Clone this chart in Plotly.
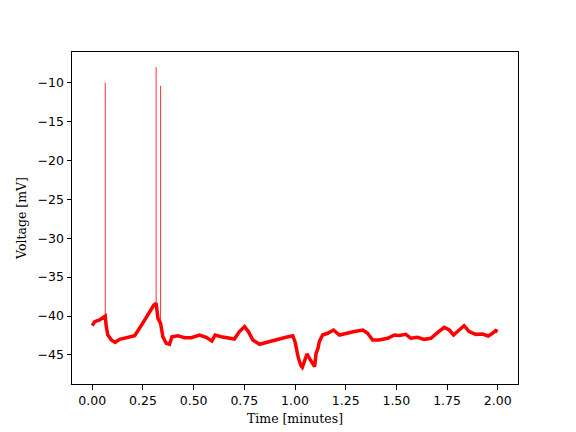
import plotly.graph_objects as go

# Baseline membrane potential trace (time in minutes, voltage in mV)
time_min = [0.000, 0.012, 0.036, 0.061, 0.064, 0.069, 0.077, 0.094, 0.113, 0.135,
            0.160, 0.184, 0.209, 0.233, 0.258, 0.283, 0.304, 0.315, 0.324, 0.337,
            0.348, 0.365, 0.381, 0.393, 0.422, 0.455, 0.488, 0.529, 0.562, 0.590,
            0.606, 0.636, 0.668, 0.701, 0.726, 0.751, 0.770, 0.792, 0.825, 0.857,
            0.890, 0.923, 0.956, 0.989, 1.000, 1.017, 1.030, 1.036, 1.046, 1.059,
            1.075, 1.097, 1.104, 1.113, 1.120, 1.136, 1.161, 1.190, 1.219, 1.251,
            1.293, 1.335, 1.358, 1.383, 1.416, 1.457, 1.490, 1.514, 1.547, 1.571,
            1.604, 1.637, 1.670, 1.703, 1.736, 1.761, 1.782, 1.810, 1.834, 1.859,
            1.892, 1.925, 1.953, 1.974, 1.990, 2.000]
voltage_mv = [-41.24, -40.73, -40.5, -40.09, -40.0, -41.37, -42.44, -43.08, -43.38, -43.0,
              -42.86, -42.73, -42.53, -41.58, -40.5, -39.36, -38.59, -38.37, -40.3, -40.94,
              -42.66, -43.5, -43.63, -42.66, -42.53, -42.79, -42.79, -42.44, -42.73, -43.2,
              -42.44, -42.66, -42.79, -42.96, -42.0, -41.37, -42.0, -43.08, -43.63, -43.38,
              -43.2, -42.96, -42.73, -42.53, -43.3, -45.43, -46.42, -46.6, -45.86, -44.88,
              -45.6, -46.5, -44.8, -44.2, -43.3, -42.44, -42.22, -41.8, -42.44, -42.22,
              -42.0, -41.8, -42.22, -43.08, -43.08, -42.86, -42.44, -42.5, -42.36, -42.86,
              -42.73, -43.0, -42.86, -42.14, -41.45, -41.8, -42.44, -41.8, -41.24, -42.0,
              -42.36, -42.31, -42.57, -42.22, -41.87, -42.0]

# Action potential spikes
spike_time = [0.064, 0.315, 0.337]
spike_base = [-40.0, -38.4, -40.9]
spike_peak = [-10.0, -8.0, -10.4]

y_tickvals = [-45, -40, -35, -30, -25, -20, -15, -10]
y_ticktext = ["\u221245", "\u221240", "\u221235", "\u221230", "\u221225", "\u221220", "\u221215", "\u221210"]
x_tickvals = [0.0, 0.25, 0.5, 0.75, 1.0, 1.25, 1.5, 1.75, 2.0]

sx, sy = [], []
for t, b, p in zip(spike_time, spike_base, spike_peak):
    sx += [t, t, None]
    sy += [b, p, None]

fig = go.Figure()
fig.add_trace(go.Scatter(x=time_min, y=voltage_mv, mode="lines",
                         line=dict(color="#ff0000", width=3.5), showlegend=False))
fig.add_trace(go.Scatter(x=sx, y=sy, mode="lines",
                         line=dict(color="#ff0000", width=1), opacity=0.8, showlegend=False))

axis_common = dict(showline=True, linecolor="black", linewidth=1, mirror=True,
                   ticks="outside", ticklen=4.5, tickwidth=1, tickcolor="black",
                   showgrid=False, zeroline=False, automargin=False,
                   tickfont=dict(family="DejaVu Sans", size=12.5, color="black"))

fig.update_xaxes(range=[-0.1, 2.1], tickvals=x_tickvals, tickformat=".2f",
                 title=dict(text="Time [minutes]", standoff=7,
                            font=dict(family="DejaVu Serif", size=12.5, color="black")),
                 **axis_common)
fig.update_yaxes(range=[-48.74, -6.06], tickvals=y_tickvals, ticktext=y_ticktext,
                 title=dict(text="Voltage [mV]", standoff=8,
                            font=dict(family="DejaVu Serif", size=12.5, color="black")),
                 **axis_common)

fig.update_layout(width=576, height=432, paper_bgcolor="white", plot_bgcolor="white",
                  margin=dict(l=72, r=58, t=52, b=48))

fig.write_html("out.html", config={"displayModeBar": False},
               post_script="document.body.style.margin='0';")
